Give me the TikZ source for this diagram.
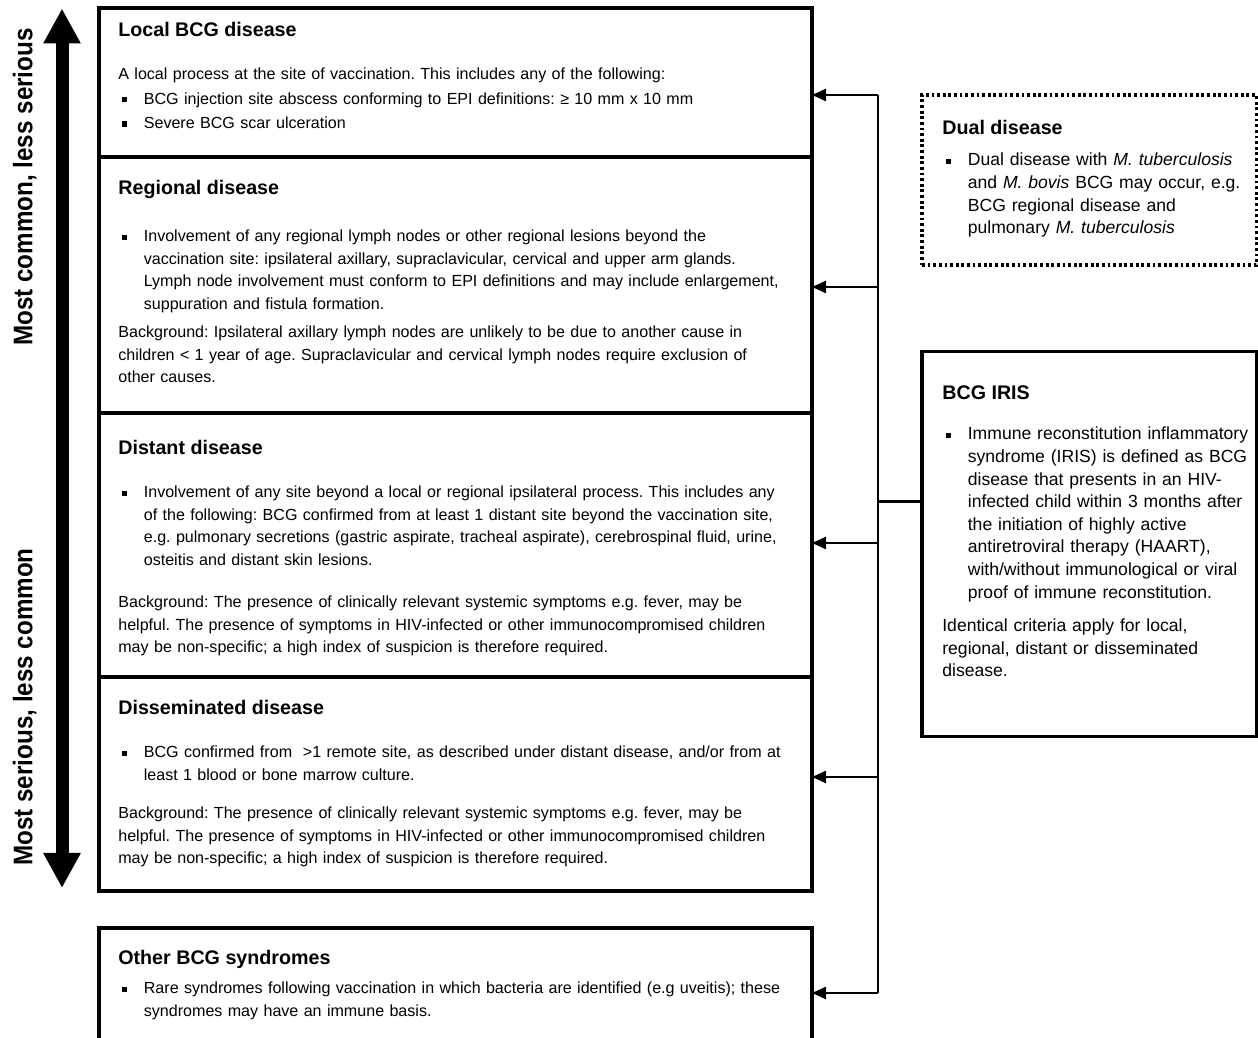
\documentclass[tikz,border=0pt]{standalone}
\usepackage{fontspec}
\setmainfont{Liberation Sans}
\newfontfamily\sidefont{Liberation Sans}[FakeStretch=0.9]
\usepackage{tikz}
\usetikzlibrary{arrows.meta, positioning}
\newcommand{\sqbul}[2][13.3cm]{\makebox[0.51cm][l]{\hspace{0.08cm}\rule[1.1pt]{2.9pt}{2.9pt}}\parbox[t]{#1}{#2}}

\begin{document}
\frenchspacing
\begin{tikzpicture}[
    sect/.style={rectangle, draw, line width=1.9pt, minimum width=14.26cm, inner sep=0pt, outer sep=0pt},
    side/.style={rectangle, draw, line width=1.9pt, minimum width=6.69cm, inner sep=0pt, outer sep=0pt, anchor=north west},
    head/.style={anchor=base west, inner sep=0pt, font=\fontsize{11.2}{13}\selectfont\bfseries},
    body/.style={anchor=base west, inner sep=0pt, text width=14.5cm, align=left, font=\fontsize{9.15}{12.8}\selectfont},
    sidebody/.style={body, text width=7cm, font=\fontsize{10}{12.85}\selectfont},
    bus/.style={line width=1.5pt},
    feed/.style={bus, -{Triangle[length=0.28cm, width=0.24cm]}},
    axis/.style={line width=0.26cm, {Triangle[length=0.7cm, width=0.7cm]}-{Triangle[length=0.7cm, width=0.7cm]}},
    axislabel/.style={rotate=90, anchor=base, inner sep=0pt, font=\sidefont\fontsize{15.3}{17}\selectfont\bfseries}
]
\useasboundingbox (0,0) rectangle (25.16,20.76);

% severity axis
\coordinate (axtop) at (1.24,20.59);
\coordinate (axbot) at (1.24,3.0);
\draw[axis] (axtop) -- (axbot);
\node[axislabel] (common) at (0.65,17.02) {Most common, less serious};
\node[axislabel] (serious) at (0.65,6.62) {Most serious, less common};

% stacked disease boxes
\node[sect, anchor=north west, minimum height=2.98cm] (local) at (1.98,20.6) {};
\node[sect, minimum height=5.12cm, below=0pt of local] (regional) {};
\node[sect, minimum height=5.28cm, below=0pt of regional] (distant) {};
\node[sect, minimum height=4.28cm, below=0pt of distant] (dissem) {};
\node[sect, anchor=north west, minimum height=2.3cm] (other) at (1.98,2.2) {};

\node[head] (localhead) at (2.36,20.02) {Local BCG disease};
\node[body, font=\fontsize{9.15}{13.8}\selectfont] (localtext) at (2.36,19.16) {
    A local process at the site of vaccination. This includes any of the following:\\
    \sqbul{BCG injection site abscess conforming to EPI definitions: ≥ 10 mm x 10 mm}\\
    \sqbul{Severe BCG scar ulceration}
};

\node[head] (reghead) at (2.36,16.86) {Regional disease};
\node[body] (regtext) at (2.36,15.92) {
    \sqbul{Involvement of any regional lymph nodes or other regional lesions beyond the\\
    vaccination site: ipsilateral axillary, supraclavicular, cervical and upper arm glands.\\
    Lymph node involvement must conform to EPI definitions and may include enlargement,\\
    suppuration and fistula formation.}
};
\node[body] (regback) at (2.36,14.0) {
    Background: Ipsilateral axillary lymph nodes are unlikely to be due to another cause in\\
    children < 1 year of age. Supraclavicular and cervical lymph nodes require exclusion of\\
    other causes.
};

\node[head] (disthead) at (2.36,11.66) {Distant disease};
\node[body] (disttext) at (2.36,10.8) {
    \sqbul{Involvement of any site beyond a local or regional ipsilateral process. This includes any\\
    of the following: BCG confirmed from at least 1 distant site beyond the vaccination site,\\
    e.g. pulmonary secretions (gastric aspirate, tracheal aspirate), cerebrospinal fluid, urine,\\
    osteitis and distant skin lesions.}
};
\node[body] (distback) at (2.36,8.6) {
    Background: The presence of clinically relevant systemic symptoms e.g. fever, may be\\
    helpful. The presence of symptoms in HIV-infected or other immunocompromised children\\
    may be non-specific; a high index of suspicion is therefore required.
};

\node[head] (disshead) at (2.36,6.46) {Disseminated disease};
\node[body] (disstext) at (2.36,5.6) {
    \sqbul{BCG confirmed from \ >1 remote site, as described under distant disease, and/or from at\\
    least 1 blood or bone marrow culture.}
};
\node[body] (dissback) at (2.36,4.38) {
    Background: The presence of clinically relevant systemic symptoms e.g. fever, may be\\
    helpful. The presence of symptoms in HIV-infected or other immunocompromised children\\
    may be non-specific; a high index of suspicion is therefore required.
};

\node[head] (otherhead) at (2.36,1.46) {Other BCG syndromes};
\node[body] (othertext) at (2.36,0.88) {
    \sqbul{Rare syndromes following vaccination in which bacteria are identified (e.g uveitis); these\\
    syndromes may have an immune basis.}
};

% side boxes
\node[side, dash pattern=on 1.6pt off 1.6pt, minimum height=3.4cm] (dual) at (18.44,18.86) {};
\node[head] (dualhead) at (18.84,18.06) {Dual disease};
\node[sidebody] (dualtext) at (18.84,17.44) {
    \sqbul[6.4cm]{Dual disease with \textit{M. tuberculosis}\\
    and \textit{M. bovis} BCG may occur, e.g.\\
    BCG regional disease and\\
    pulmonary \textit{M. tuberculosis}}
};

\node[side, minimum height=7.7cm] (iris) at (18.44,13.73) {};
\node[head] (irishead) at (18.84,12.76) {BCG IRIS};
\node[sidebody] (iristext) at (18.84,11.96) {
    \sqbul[6.4cm]{Immune reconstitution inflammatory\\
    syndrome (IRIS) is defined as BCG\\
    disease that presents in an HIV-\\
    infected child within 3 months after\\
    the initiation of highly active\\
    antiretroviral therapy (HAART),\\
    with/without immunological or viral\\
    proof of immune reconstitution.}
};
\node[sidebody] (irisnote) at (18.84,8.13) {
    Identical criteria apply for local,\\
    regional, distant or disseminated\\
    disease.
};

% IRIS feeds every box
\coordinate (b1) at (17.56,18.86);
\coordinate (b2) at (17.56,15.02);
\coordinate (b3) at (17.56,9.9);
\coordinate (b4) at (17.56,5.22);
\coordinate (b5) at (17.56,0.9);
\coordinate (bi) at (17.56,10.73);
\draw[bus] (b1) -- (b5);
\draw[bus] (iris.west |- bi) -- (bi);
\draw[feed] (b1) -- (b1 -| local.east);
\draw[feed] (b2) -- (b2 -| regional.east);
\draw[feed] (b3) -- (b3 -| distant.east);
\draw[feed] (b4) -- (b4 -| dissem.east);
\draw[feed] (b5) -- (b5 -| other.east);
\end{tikzpicture}
\end{document}
